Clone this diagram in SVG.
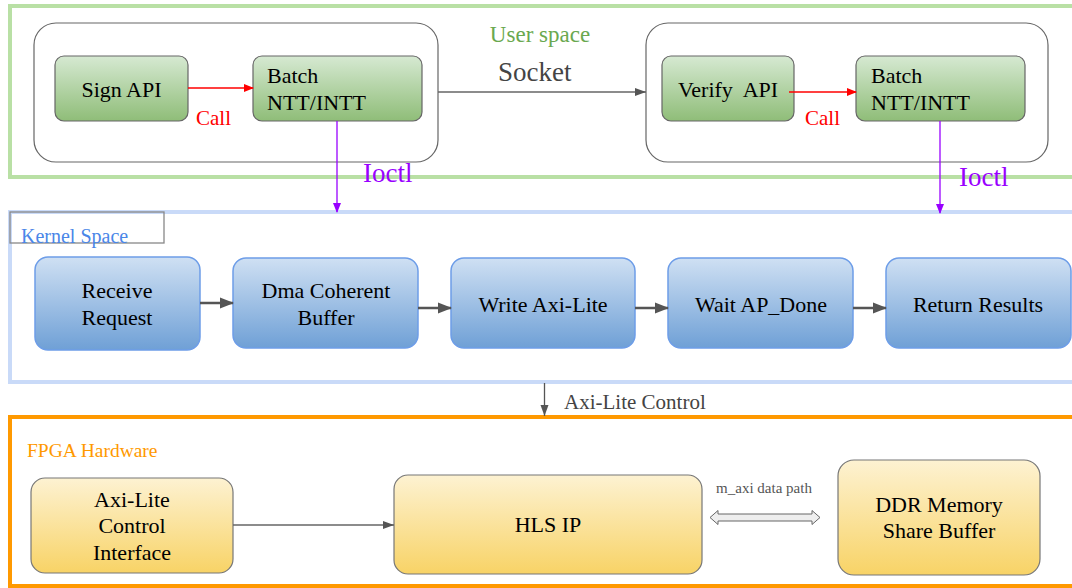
<svg xmlns="http://www.w3.org/2000/svg" width="1072" height="588" viewBox="0 0 1072 588">
<defs>
<linearGradient id="gGreen" x1="0" y1="0" x2="0" y2="1"><stop offset="0" stop-color="#d6e9d2"/><stop offset="1" stop-color="#8fbd78"/></linearGradient>
<linearGradient id="gBlue" x1="0" y1="0" x2="0" y2="1"><stop offset="0" stop-color="#cfe0f3"/><stop offset="1" stop-color="#6fa0d6"/></linearGradient>
<linearGradient id="gYellow" x1="0" y1="0" x2="0" y2="1"><stop offset="0" stop-color="#fdf2d2"/><stop offset="1" stop-color="#f8d366"/></linearGradient>
<marker id="aRed" markerWidth="10" markerHeight="10" refX="9" refY="5" orient="auto" markerUnits="userSpaceOnUse"><path d="M0,1 L10,5 L0,9 Z" fill="#ff0000"/></marker>
<marker id="aPurple" markerWidth="10" markerHeight="10" refX="9" refY="5" orient="auto" markerUnits="userSpaceOnUse"><path d="M0,1 L10,5 L0,9 Z" fill="#9900ff"/></marker>
<marker id="aGray" markerWidth="12" markerHeight="10" refX="11" refY="5" orient="auto" markerUnits="userSpaceOnUse"><path d="M0,1 L11,5 L0,9 Z" fill="#555"/></marker>
<marker id="aDark" markerWidth="14" markerHeight="12" refX="13" refY="6" orient="auto" markerUnits="userSpaceOnUse"><path d="M0,0.5 L14,6 L0,11.5 Z" fill="#555"/></marker>
</defs>
<style>
text{font-family:"Liberation Serif","Times New Roman",serif;}
.n{font-size:22px;fill:#000;text-anchor:middle;}
.nl{font-size:22px;fill:#000;}
.gbox{fill:url(#gGreen);stroke:#666;stroke-width:1.2;}
.bbox{fill:url(#gBlue);stroke:#6d9de8;stroke-width:1.5;}
.ybox{fill:url(#gYellow);stroke:#777;stroke-width:1.2;}
.cont{fill:none;stroke:#666;stroke-width:1.2;}
.call{font-size:21px;fill:#ff0000;}
.ioctl{font-size:27px;fill:#9900ff;}
</style>
<rect width="1072" height="588" fill="#fff"/>
<g id="regions">
<rect id="user-space" x="10" y="6" width="1080" height="171" fill="none" stroke="#b9e0a5" stroke-width="4"/>
<text x="540" y="42" font-size="23" fill="#6aa84f" text-anchor="middle">User space</text>
<rect id="kernel-space" x="10" y="212" width="1080" height="170" fill="none" stroke="#c9daf8" stroke-width="4"/>
<rect x="10" y="212" width="154" height="31" fill="none" stroke="#888" stroke-width="1.3"/>
<text x="21" y="243" font-size="20" fill="#4a86e8">Kernel Space</text>
<rect id="fpga" x="10" y="417" width="1080" height="169" fill="none" stroke="#ff9900" stroke-width="4"/>
<text x="27" y="457" font-size="19.5" fill="#ff9900">FPGA Hardware</text>
</g>
<g id="sign-container"><rect x="34" y="23" width="404" height="139" rx="22" class="cont"/></g>
<g id="verify-container"><rect x="646" y="23" width="402" height="139" rx="22" class="cont"/></g>
<g id="sign-api"><rect x="55" y="56" width="133" height="65" rx="9" class="gbox"/><text x="121.5" y="97" class="n">Sign API</text></g>
<g id="batch-1"><rect x="253" y="56" width="169" height="65" rx="9" class="gbox"/><text x="267" y="83" class="nl">Batch</text><text x="267" y="110" class="nl">NTT/INTT</text></g>
<g id="verify-api"><rect x="662" y="56" width="132" height="65" rx="9" class="gbox"/><text x="728" y="97" class="n" xml:space="preserve">Verify  API</text></g>
<g id="batch-2"><rect x="856" y="56" width="169" height="65" rx="9" class="gbox"/><text x="871" y="83" class="nl">Batch</text><text x="871" y="110" class="nl">NTT/INTT</text></g>
<g id="receive"><rect x="35" y="257" width="165" height="93" rx="13" class="bbox"/><text x="117" y="298" class="n">Receive</text><text x="117" y="325" class="n">Request</text></g>
<g id="dma"><rect x="233" y="258" width="185" height="90" rx="13" class="bbox"/><text x="326" y="298" class="n">Dma Coherent</text><text x="326" y="325" class="n">Buffer</text></g>
<g id="write"><rect x="451" y="258" width="184" height="90" rx="13" class="bbox"/><text x="543" y="312" class="n">Write Axi-Lite</text></g>
<g id="wait"><rect x="668" y="258" width="185" height="90" rx="13" class="bbox"/><text x="761" y="312" class="n">Wait AP_Done</text></g>
<g id="return"><rect x="886" y="258" width="185" height="90" rx="13" class="bbox"/><text x="978" y="312" class="n">Return Results</text></g>
<g id="axi-lite-if"><rect x="31" y="478" width="202" height="95" rx="14" class="ybox"/><text x="132" y="507" class="n">Axi-Lite</text><text x="132" y="533" class="n">Control</text><text x="132" y="560" class="n">Interface</text></g>
<g id="hls-ip"><rect x="394" y="475" width="308" height="99" rx="14" class="ybox"/><text x="548" y="532" class="n">HLS IP</text></g>
<g id="ddr"><rect x="838" y="460" width="202" height="115" rx="16" class="ybox"/><text x="939" y="512" class="n">DDR Memory</text><text x="939" y="538" class="n">Share Buffer</text></g>
<g id="connectors">
<line x1="188" y1="88" x2="253" y2="88" stroke="#ff0000" stroke-width="1.3" marker-end="url(#aRed)"/>
<text x="196" y="125" class="call">Call</text>
<line x1="789" y1="92" x2="856" y2="92" stroke="#ff0000" stroke-width="1.3" marker-end="url(#aRed)"/>
<text x="805" y="125" class="call">Call</text>
<line x1="438" y1="92" x2="646" y2="92" stroke="#666" stroke-width="1.3" marker-end="url(#aGray)"/>
<text x="498" y="81" font-size="27" fill="#444">Socket</text>
<line x1="337" y1="121" x2="337" y2="212" stroke="#9900ff" stroke-width="1.3" marker-end="url(#aPurple)"/>
<text x="363" y="182" class="ioctl">Ioctl</text>
<line x1="940" y1="121" x2="940" y2="213" stroke="#9900ff" stroke-width="1.3" marker-end="url(#aPurple)"/>
<text x="959" y="186" class="ioctl">Ioctl</text>
<line x1="200" y1="303" x2="233" y2="303" stroke="#555" stroke-width="2.5" marker-end="url(#aDark)"/>
<line x1="418" y1="308" x2="451" y2="308" stroke="#555" stroke-width="2.5" marker-end="url(#aDark)"/>
<line x1="635" y1="308" x2="668" y2="308" stroke="#555" stroke-width="2.5" marker-end="url(#aDark)"/>
<line x1="853" y1="308" x2="886" y2="308" stroke="#555" stroke-width="2.5" marker-end="url(#aDark)"/>
<line x1="544.5" y1="383" x2="544.5" y2="416" stroke="#555" stroke-width="1.3" marker-end="url(#aGray)"/>
<text x="564" y="409" font-size="21" fill="#444">Axi-Lite Control</text>
<line x1="233" y1="525" x2="394" y2="525" stroke="#666" stroke-width="1.3" marker-end="url(#aGray)"/>
<path d="M710,517.5 L718,510.5 L718,514 L812,514 L812,510.5 L820,517.5 L812,524.5 L812,521 L718,521 L718,524.5 Z" fill="#eeeeee" stroke="#666" stroke-width="1"/>
<text x="764" y="493" font-size="15" fill="#555" text-anchor="middle">m_axi data path</text>
</g>
</svg>
